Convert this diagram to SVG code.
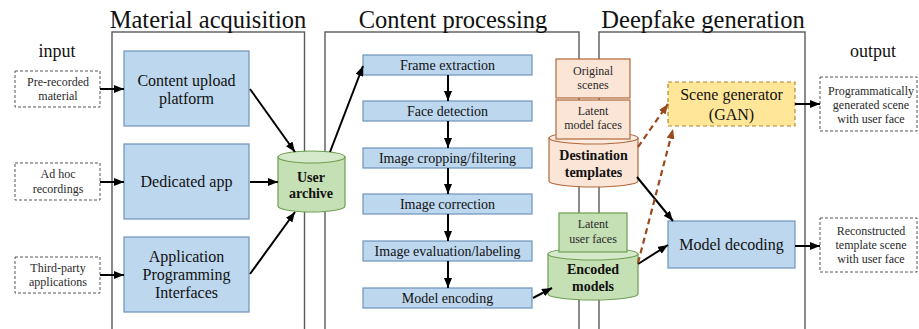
<svg xmlns="http://www.w3.org/2000/svg" width="919" height="329" viewBox="0 0 919 329" font-family="Liberation Serif, DejaVu Serif, serif">
  <style>
    .title { font-size: 24.5px; fill: #111; text-anchor: middle; }
    .side { font-size: 18px; fill: #111; text-anchor: middle; }
    .panel { fill: #fff; stroke: #5a5a5a; stroke-width: 1.4; }
    .blue { fill: #BDD7EE; stroke: #6F93BD; stroke-width: 1.2; }
    .big { font-size: 16px; fill: #111; text-anchor: middle; }
    .step { font-size: 14px; fill: #111; text-anchor: middle; }
    .small { font-size: 12px; fill: #2a2a2a; text-anchor: middle; }
    .bold { font-size: 14px; font-weight: bold; fill: #111; text-anchor: middle; }
    .io { fill: #fff; stroke: #555; stroke-width: 1; stroke-dasharray: 3 2; }
    .green { fill: #C5E0B4; stroke: #6E9E52; stroke-width: 1.2; }
    .greentop { fill: #D5EACA; stroke: #6E9E52; stroke-width: 1.2; }
    .orange { fill: #FBE5D6; stroke: #B0683A; stroke-width: 1.2; }
    .orangetop { fill: #FCEBE0; stroke: #B0683A; stroke-width: 1.2; }
    .gan { fill: #FFE699; stroke: #B08A2A; stroke-width: 1.2; stroke-dasharray: 4 3; }
    .arrow { stroke: #000; stroke-width: 2; fill: none; marker-end: url(#head); }
    .dash { stroke: #9A4A1C; stroke-width: 2.2; fill: none; stroke-dasharray: 6 4; marker-end: url(#headBrown); }
  </style>
  <defs>
    <marker id="head" markerUnits="userSpaceOnUse" markerWidth="10" markerHeight="8" refX="10" refY="4" orient="auto">
      <path d="M0,0 L10,4 L0,8 z" fill="#000"/>
    </marker>
    <marker id="headBrown" markerUnits="userSpaceOnUse" markerWidth="10" markerHeight="8" refX="10" refY="4" orient="auto">
      <path d="M0,0 L10,4 L0,8 z" fill="#9A4A1C"/>
    </marker>
  </defs>

  <rect width="919" height="329" fill="#fff"/>

  <!-- stage panels -->
  <g id="panels">
    <rect class="panel" x="112" y="32" width="192.5" height="310"/>
    <rect class="panel" x="325" y="32" width="254" height="310"/>
    <rect class="panel" x="599" y="32" width="206" height="310"/>
  </g>

  <g id="titles">
    <text class="title" x="208" y="28">Material acquisition</text>
    <text class="title" x="453" y="28">Content processing</text>
    <text class="title" x="703" y="28">Deepfake generation</text>
    <text class="side" x="57" y="57">input</text>
    <text class="side" x="873" y="57">output</text>
  </g>

  <!-- inputs -->
  <g id="in-prerecorded">
    <rect class="io" x="15" y="71" width="85" height="36"/>
    <text class="small" x="58" y="86">Pre-recorded</text>
    <text class="small" x="58" y="100">material</text>
  </g>
  <g id="in-adhoc">
    <rect class="io" x="15" y="163" width="85" height="37"/>
    <text class="small" x="58" y="178">Ad hoc</text>
    <text class="small" x="58" y="193">recordings</text>
  </g>
  <g id="in-thirdparty">
    <rect class="io" x="15" y="257" width="85" height="36"/>
    <text class="small" x="58" y="272">Third-party</text>
    <text class="small" x="58" y="286">applications</text>
  </g>

  <!-- acquisition channels -->
  <g id="upload-platform">
    <rect class="blue" x="124" y="51" width="125" height="75"/>
    <text class="big" x="186.5" y="85.5">Content upload</text>
    <text class="big" x="186.5" y="103.5">platform</text>
  </g>
  <g id="dedicated-app">
    <rect class="blue" x="124" y="144" width="125" height="75"/>
    <text class="big" x="186.5" y="187">Dedicated app</text>
  </g>
  <g id="api">
    <rect class="blue" x="124" y="237" width="125" height="75"/>
    <text class="big" x="186.5" y="262">Application</text>
    <text class="big" x="186.5" y="280">Programming</text>
    <text class="big" x="186.5" y="298">Interfaces</text>
  </g>

  <g id="user-archive">
    <path class="green" d="M278,157 L278,206 A33.5,6 0 0 0 345,206 L345,157 z"/>
    <ellipse class="greentop" cx="311.5" cy="157" rx="33.5" ry="6"/>
    <text class="bold" x="311" y="182">User</text>
    <text class="bold" x="311" y="198">archive</text>
  </g>

  <!-- processing pipeline -->
  <g id="frame-extraction">
    <rect class="blue" x="363" y="55" width="169" height="20"/>
    <text class="step" x="447.5" y="70">Frame extraction</text>
  </g>
  <g id="face-detection">
    <rect class="blue" x="363" y="101" width="169" height="20"/>
    <text class="step" x="447.5" y="116">Face detection</text>
  </g>
  <g id="image-cropping">
    <rect class="blue" x="363" y="148" width="169" height="20"/>
    <text class="step" x="447.5" y="163">Image cropping/filtering</text>
  </g>
  <g id="image-correction">
    <rect class="blue" x="363" y="194" width="169" height="20"/>
    <text class="step" x="447.5" y="209">Image correction</text>
  </g>
  <g id="image-evaluation">
    <rect class="blue" x="363" y="241" width="169" height="20"/>
    <text class="step" x="447.5" y="256">Image evaluation/labeling</text>
  </g>
  <g id="model-encoding">
    <rect class="blue" x="363" y="288" width="169" height="20"/>
    <text class="step" x="447.5" y="303">Model encoding</text>
  </g>

  <!-- template store -->
  <g id="destination-templates">
    <path class="orange" d="M549,138 L549,181 A44.5,6 0 0 0 638,181 L638,138 z"/>
    <ellipse class="orangetop" cx="593.5" cy="138" rx="44.5" ry="6"/>
    <rect class="orange" x="556" y="59" width="74" height="39"/>
    <text class="small" x="593" y="75">Original</text>
    <text class="small" x="593" y="89">scenes</text>
    <rect class="orange" x="556" y="100" width="74" height="39"/>
    <text class="small" x="593" y="115">Latent</text>
    <text class="small" x="593" y="129">model faces</text>
    <text class="bold" x="593.5" y="160">Destination</text>
    <text class="bold" x="593.5" y="177">templates</text>
  </g>

  <g id="encoded-models">
    <path class="green" d="M548,254 L548,294 A45,6 0 0 0 638,294 L638,254 z"/>
    <ellipse class="greentop" cx="593" cy="254" rx="45" ry="6"/>
    <rect class="green" x="559" y="213" width="68" height="39"/>
    <text class="small" x="593" y="228">Latent</text>
    <text class="small" x="593" y="243">user faces</text>
    <text class="bold" x="593" y="274">Encoded</text>
    <text class="bold" x="593" y="291">models</text>
  </g>

  <!-- generation -->
  <g id="scene-generator">
    <rect class="gan" x="668" y="82" width="127" height="44"/>
    <text class="big" x="731.5" y="100">Scene generator</text>
    <text class="big" x="731.5" y="120">(GAN)</text>
  </g>
  <g id="model-decoding">
    <rect class="blue" x="668" y="221" width="127" height="47"/>
    <text class="big" x="731.5" y="250">Model decoding</text>
  </g>

  <!-- outputs -->
  <g id="out-generated">
    <rect class="io" x="820" y="77" width="97" height="54"/>
    <text class="small" x="871" y="95">Programmatically</text>
    <text class="small" x="871" y="109">generated scene</text>
    <text class="small" x="871" y="123">with user face</text>
  </g>
  <g id="out-reconstructed">
    <rect class="io" x="820" y="218" width="97" height="54"/>
    <text class="small" x="871" y="235">Reconstructed</text>
    <text class="small" x="871" y="249">template scene</text>
    <text class="small" x="871" y="263">with user face</text>
  </g>

  <!-- connectors -->
  <g id="connectors">
    <line class="arrow" x1="100" y1="89" x2="124" y2="89"/>
    <line class="arrow" x1="100" y1="182" x2="124" y2="182"/>
    <line class="arrow" x1="100" y1="275" x2="124" y2="275"/>
    <line class="arrow" x1="250" y1="89" x2="295" y2="152"/>
    <line class="arrow" x1="250" y1="182" x2="278" y2="182"/>
    <line class="arrow" x1="250" y1="274" x2="295" y2="212"/>
    <line class="arrow" x1="330" y1="152" x2="363" y2="66"/>
    <line class="arrow" x1="448" y1="75" x2="448" y2="101"/>
    <line class="arrow" x1="448" y1="121" x2="448" y2="148"/>
    <line class="arrow" x1="448" y1="168" x2="448" y2="194"/>
    <line class="arrow" x1="448" y1="214" x2="448" y2="241"/>
    <line class="arrow" x1="448" y1="261" x2="448" y2="288"/>
    <line class="arrow" x1="533" y1="298" x2="552" y2="288"/>
    <line class="arrow" x1="637" y1="177" x2="673" y2="221"/>
    <line class="arrow" x1="638" y1="264" x2="668" y2="245"/>
    <line class="arrow" x1="795" y1="104" x2="820" y2="104"/>
    <line class="arrow" x1="795" y1="246" x2="820" y2="246"/>
    <line class="dash" x1="638" y1="147" x2="668" y2="104"/>
    <line class="dash" x1="638" y1="263" x2="673" y2="129"/>
  </g>
</svg>
